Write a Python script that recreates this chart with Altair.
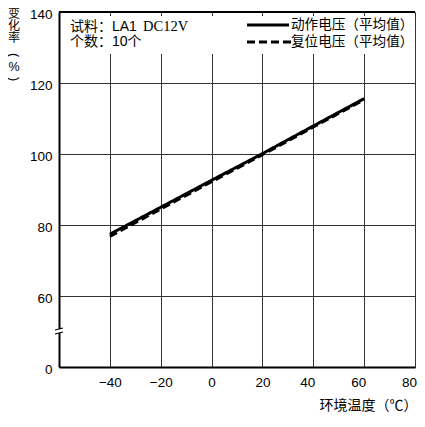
import altair as alt
import pandas as pd

# ---- data ----
temps = [-40, -20, 0, 20, 40, 60]
operate = [77.4, 85.0, 92.6, 100.1, 107.9, 115.6]   # 动作电压（平均值）
release = [76.8, 84.5, 92.2, 99.8, 107.6, 115.3]    # 复位电压（平均值）
series_names = ["动作电压（平均值）", "复位电压（平均值）"]
x_ticks = [-40, -20, 0, 20, 40, 60, 80]
y_ticks = [40, 60, 80, 100, 120, 140]
info_a = "试料：LA1"
info_b = "DC12V"
info_c = "个数：10个"
x_title = "环境温度（℃）"
y_title_chars = ["变", "化", "率", "(", "%", ")"]

rows = []
for name, vals in zip(series_names, [operate, release]):
    for t, v in zip(temps, vals):
        rows.append({"t": t, "v": v, "s": name})
df = pd.DataFrame(rows)

W, H = 356, 355
CJK = "Noto Sans CJK SC"
SANS = "Liberation Sans"
MIX = "Liberation Sans, Noto Sans CJK SC"
one = alt.Data(values=[{}])

xs = alt.Scale(domain=[-60, 80], nice=False, zero=False)
ys = alt.Scale(domain=[40, 140], nice=False, zero=False)

lines = alt.Chart(df).mark_line(strokeWidth=3, color="black").encode(
    x=alt.X("t:Q", scale=xs, axis=alt.Axis(
        values=x_ticks, grid=True, gridColor="#333", gridWidth=1, gridOpacity=1,
        ticks=False, labelPadding=8, labelFont=SANS, labelFontSize=13.5, labelColor="black",
        labelOffset={"condition": {"test": "datum.value >= 40", "value": -6}, "value": 0},
        domainColor="black", domainWidth=2,
        title=x_title, titleFont=CJK, titleFontSize=14, titleFontWeight="normal",
        titleColor="black", titleX=W + 2, titleAlign="right", titleY=38,
        titleBaseline="middle", labelFlush=False)),
    y=alt.Y("v:Q", scale=ys, axis=alt.Axis(
        values=y_ticks, grid=True, gridColor="#333", gridWidth=1, gridOpacity=1,
        ticks=False, labelPadding=7, labelFont=SANS, labelFontSize=13.5, labelColor="black",
        labelBaseline="middle", labelFlush=False, labelOffset=2,
        labelExpr="datum.value == 40 ? '0' : datum.label",
        domainColor="black", domainWidth=2, title=None)),
    strokeDash=alt.StrokeDash("s:N", scale=alt.Scale(domain=series_names, range=[[1, 0], [8, 4]]), legend=None),
)

# white box behind annotation text
box = alt.Chart(one).mark_rect(color="white").encode(
    x=alt.value(9), x2=alt.value(W), y=alt.value(4), y2=alt.value(42))

# top frame
top = alt.Chart(one).mark_rule(color="black", strokeWidth=2).encode(y=alt.datum(140))

def txt(s, x, y, font=MIX, size=14, align="left", baseline="middle", angle=0):
    return alt.Chart(one).mark_text(font=font, fontSize=size, align=align, baseline=baseline,
                                    color="black", angle=angle).encode(
        x=alt.value(x), y=alt.value(y), text=alt.value(s))

t1 = txt(info_a, 11, 15)
t2 = txt(info_b, 84, 15, font="Liberation Serif", size=14.5)
t3 = txt(info_c, 11, 30)

leg_solid = alt.Chart(one).mark_rule(color="black", strokeWidth=3).encode(
    x=alt.value(188), x2=alt.value(230), y=alt.value(13))
leg_dash = alt.Chart(one).mark_rule(color="black", strokeWidth=3, strokeDash=[8, 4]).encode(
    x=alt.value(188), x2=alt.value(232), y=alt.value(30))
l1 = txt(series_names[0], 232, 13, font=CJK, size=13.6)
l2 = txt(series_names[1], 232, 30, font=CJK, size=13.6)

# vertical y title, one character per line
ty_pos = [2, 14, 26, 43, 55, 67]
ty_layers = []
for ch, yy in zip(y_title_chars, ty_pos):
    if ch in "()":
        ty_layers.append(txt(ch, -45, yy, font=SANS, size=12.5, align="center", angle=90))
    elif ch == "%":
        ty_layers.append(txt(ch, -45, yy, font=SANS, size=12.5, align="center"))
    else:
        ty_layers.append(txt(ch, -45, yy, font=CJK, size=12, align="center"))

# axis break marks
cut = alt.Chart(one).mark_rule(color="white", strokeWidth=4).encode(
    x=alt.value(0), y=alt.value(317), y2=alt.value(321))
b1 = alt.Chart(one).mark_rule(color="black", strokeWidth=1.2).encode(
    x=alt.value(-4), x2=alt.value(4), y=alt.value(318), y2=alt.value(316))
b2 = alt.Chart(one).mark_rule(color="black", strokeWidth=1.2).encode(
    x=alt.value(-4), x2=alt.value(4), y=alt.value(322), y2=alt.value(320))

chart = alt.layer(box, lines, top, t1, t2, t3, leg_solid, leg_dash, l1, l2, *ty_layers, cut, b1, b2).properties(
    width=W, height=H,
    autosize=alt.AutoSizeParams(type="none"),
    padding={"left": 51, "top": 4, "right": 2, "bottom": 46},
).configure_view(stroke=None)

chart.save("out.html", embed_options={"renderer": "svg", "actions": False})
